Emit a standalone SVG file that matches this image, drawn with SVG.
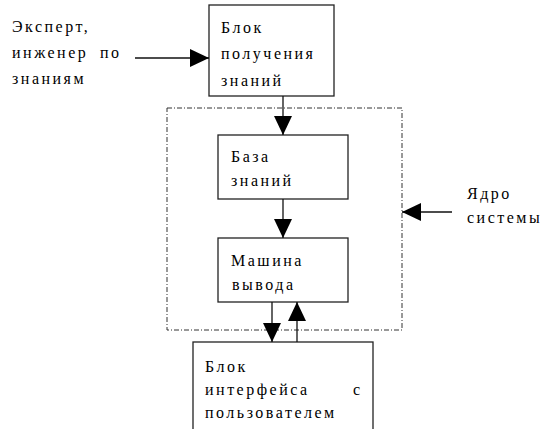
<svg xmlns="http://www.w3.org/2000/svg" width="545" height="429" viewBox="0 0 545 429">
  <style>
    .box { fill: #fff; stroke: #222; stroke-width: 1.3; }
    .core { fill: none; stroke: #333; stroke-width: 1; stroke-dasharray: 5 2 1 2; }
    .edge { stroke: #111; stroke-width: 1.3; fill: none; }
  </style>
  <defs>
    <marker id="ah" viewBox="0 0 19 18" refX="19" refY="9" markerWidth="19" markerHeight="18" markerUnits="userSpaceOnUse" orient="auto">
      <path d="M0,0 L19,9 L0,18 Z" fill="#000"/>
    </marker>
  </defs>
  <rect id="bg" width="545" height="429" fill="#fff"/>

  <!-- system core boundary -->
  <g id="core">
    <rect class="core" x="167" y="108" width="235" height="222"/>
  </g>

  <g font-family="Liberation Serif, serif" font-size="16" fill="#000" letter-spacing="2.5">
    <g id="expert">
      <text x="12" y="32">Эксперт,</text>
      <text x="12" y="58">инженер</text>
      <text x="100" y="58">по</text>
      <text x="12" y="84">знаниям</text>
    </g>

    <g id="acquisition">
      <rect class="box" x="209" y="5" width="125" height="91"/>
      <text x="221" y="33">Блок</text>
      <text x="221" y="59">получения</text>
      <text x="221" y="86">знаний</text>
    </g>

    <g id="knowledge-base">
      <rect class="box" x="218" y="135" width="130" height="64"/>
      <text x="231" y="162">База</text>
      <text x="231" y="186">знаний</text>
    </g>

    <g id="inference">
      <rect class="box" x="218" y="238" width="130" height="64"/>
      <text x="231" y="266">Машина</text>
      <text x="232" y="290">вывода</text>
    </g>

    <g id="interface">
      <rect class="box" x="193" y="342" width="180" height="100"/>
      <text x="205" y="372">Блок</text>
      <text x="205" y="395">интерфейса</text>
      <text x="353" y="395">с</text>
      <text x="205" y="418">пользователем</text>
    </g>

    <g id="core-label">
      <text x="467" y="199">Ядро</text>
      <text x="467" y="223">системы</text>
    </g>
  </g>

  <g id="connectors">
    <line class="edge" x1="135" y1="58" x2="209" y2="58" marker-end="url(#ah)"/>
    <line class="edge" x1="283" y1="96" x2="283" y2="135" marker-end="url(#ah)"/>
    <line class="edge" x1="283" y1="199" x2="283" y2="238" marker-end="url(#ah)"/>
    <line class="edge" x1="272" y1="302" x2="272" y2="342" marker-end="url(#ah)"/>
    <line class="edge" x1="297" y1="342" x2="297" y2="302" marker-end="url(#ah)"/>
    <line class="edge" x1="452" y1="212" x2="402" y2="212" marker-end="url(#ah)"/>
  </g>
</svg>
